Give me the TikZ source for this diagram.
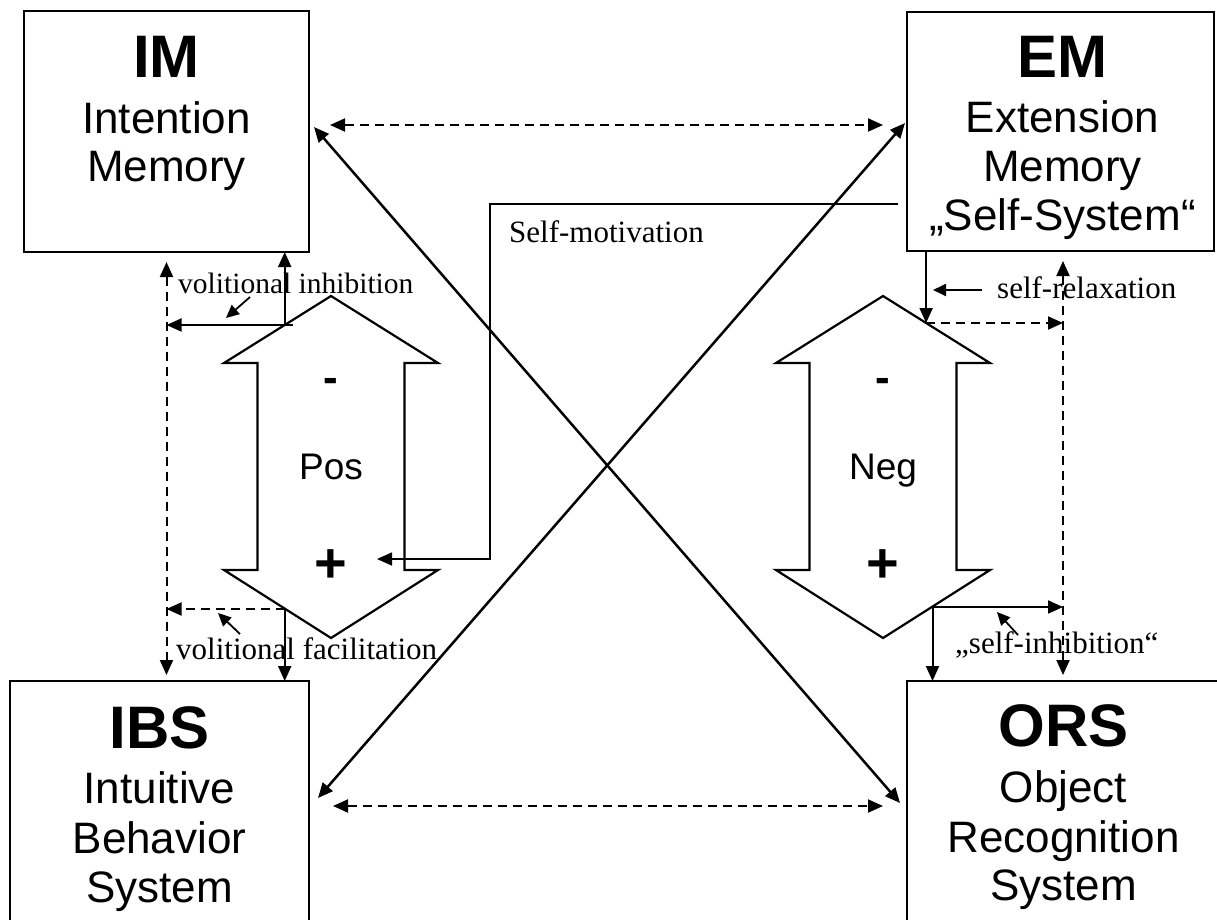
\documentclass[tikz,border=0pt]{standalone}
\usepackage{fontspec}
\setmainfont{Liberation Serif}
\newfontfamily\arialfont{Liberation Sans}
\usetikzlibrary{arrows.meta,calc}

\tikzset{
  hd/.tip={Triangle[length=15pt,width=13pt]},
  sh/.tip={Triangle[length=13pt,width=12pt]},
  sysbox/.style={draw, line width=2.6pt, inner sep=0pt, outer sep=0pt},
  ttl/.style={font=\arialfont\bfseries\fontsize{60}{64}\selectfont, anchor=base, inner sep=0pt},
  sub/.style={font=\arialfont\fontsize{44}{48}\selectfont, anchor=base, inner sep=0pt},
  minus/.style={font=\arialfont\bfseries\fontsize{44}{48}\selectfont, anchor=base, inner sep=0pt},
  plus/.style={font=\arialfont\bfseries\fontsize{56}{60}\selectfont, anchor=base, inner sep=0pt},
  mid/.style={font=\arialfont\fontsize{37}{40}\selectfont, anchor=base, inner sep=0pt},
  lbl/.style={font=\fontsize{31}{34}\selectfont, anchor=base west, inner sep=0pt},
  arr/.style={line width=2pt, -hd},
  both/.style={line width=2.5pt, hd-hd},
  dashline/.style={dash pattern=on 9pt off 6pt},
  dashboth/.style={line width=2pt, hd-hd, dashline},
  smallarr/.style={line width=1.8pt, -sh},
  outline/.style={line width=2.2pt, line join=miter},
  pics/updown/.style={code={
    \draw[outline] (0,-171) -- (107,-104) -- (73.5,-104) -- (73.5,103) -- (107,103)
      -- (0,171) -- (-107,103) -- (-73.5,103) -- (-73.5,-104) -- (-107,-104) -- cycle;
    \coordinate (-nw) at (-46.3,-142);
    \coordinate (-ne) at (43.1,-144);
    \coordinate (-sw) at (-46.3,142);
    \coordinate (-se) at (49.5,140);
    \coordinate (-in) at (46,92);
  }},
}

\begin{document}
\begin{tikzpicture}[x=1pt,y=-1pt]
\clip (0,0) rectangle (1217,919);
\fill[white] (0,0) rectangle (1217,919);

% the four systems
\node[sysbox, minimum width=285pt, minimum height=241pt] (IM)  at (166.5,131.5) {};
\node[sysbox, minimum width=307pt, minimum height=239pt] (EM)  at (1060.5,131.5) {};
\node[sysbox, minimum width=299pt, minimum height=249pt] (IBS) at (159.5,805.5) {};
\node[sysbox, minimum width=311pt, minimum height=249pt] (ORS) at (1062.5,805.5) {};

\node[ttl] (IMa) at ($(IM.north)+(0,66)$) {IM};
\node[sub] (IMb) at ($(IM.north)+(0,122)$) {Intention};
\node[sub] (IMc) at ($(IM.north)+(0,170)$) {Memory};

\node[ttl] (EMa) at ($(EM.north)+(2,65)$) {EM};
\node[sub] (EMb) at ($(EM.north)+(2,120)$) {Extension};
\node[sub] (EMc) at ($(EM.north)+(2,169)$) {Memory};
\node[sub] (EMd) at ($(EM.north)+(2,218)$) {„Self-System“};

\node[ttl] (IBSa) at ($(IBS.north)+(0,67)$) {IBS};
\node[sub] (IBSb) at ($(IBS.north)+(0,122)$) {Intuitive};
\node[sub] (IBSc) at ($(IBS.north)+(0,172)$) {Behavior};
\node[sub] (IBSd) at ($(IBS.north)+(0,221)$) {System};

\node[ttl] (ORSa) at ($(ORS.north)+(1,65)$) {ORS};
\node[sub] (ORSb) at ($(ORS.north)+(1,121)$) {Object};
\node[sub] (ORSc) at ($(ORS.north)+(1,171)$) {Recognition};
\node[sub] (ORSd) at ($(ORS.north)+(1,219)$) {System};

% affect arrows
\pic (pos) at (331,467) {updown};
\pic (neg) at (883,467) {updown};
\node[minus] (posminus) at (331,392) {-};
\node[mid]   (postext)  at (331,479) {Pos};
\node[plus]  (posplus)  at (331,582) {+};
\node[minus] (negminus) at (883,392) {-};
\node[mid]   (negtext)  at (883,479) {Neg};
\node[plus]  (negplus)  at (883,582) {+};

% links between the systems
\draw[dashboth, shorten <=21pt, shorten >=24pt] ([yshift=6.5pt]IM.east) -- ([yshift=6.5pt]IM.east -| EM.west);
\draw[dashboth, shorten <=24pt, shorten >=24pt] ([yshift=-0.5pt]IBS.east) -- ([yshift=-0.5pt]IBS.east -| ORS.west);
\draw[dashboth, shorten <=10pt, shorten >=6pt] (IM.south) -- (IM.south |- IBS.north);
\coordinate (Rx) at ([xshift=2.5pt]EM.south);
\draw[dashboth, shorten <=10pt, shorten >=6pt] (Rx) -- (Rx |- ORS.north);
\draw[both] ([shift={(5,-4.5)}]IM.east) -- ([shift={(-7,-2.5)}]ORS.west);
\draw[both] ([shift={(-2,-8.5)}]EM.west) -- ([shift={(9,-7.5)}]IBS.east);

% volitional inhibition / facilitation
\draw[arr] (pos-nw) -- (pos-nw |- IM.south);
\draw[arr] ([xshift=8pt]pos-nw) -- (pos-nw -| IM.south);
\draw[arr, dashline] (pos-sw) -- (pos-sw -| IM.south);
\draw[arr] (pos-sw) -- (pos-sw |- IBS.north);

% self-relaxation / self-inhibition
\draw[arr] (neg-ne |- EM.south) -- (neg-ne);
\draw[arr, dashline] (neg-ne) -- (neg-ne -| Rx);
\draw[arr] (neg-se) -- (neg-se -| Rx);
\draw[arr] (neg-se) -- (neg-se |- ORS.north);

% self-motivation
\coordinate (sm0) at ([shift={(-9,72.5)}]EM.west);
\coordinate (smx) at ($(pos-in)+(113,0)$);
\draw[line width=1.6pt, -hd] (sm0) -| (smx) -- (pos-in);

% labels
\node[lbl] (selfmot) at (509,242) {Self-motivation};
\node[lbl, font=\fontsize{29.5}{32}\selectfont] (volinh) at (178,293) {volitional inhibition};
\draw[smallarr] ([shift={(72,4)}]volinh.base west) -- ([shift={(48,25)}]volinh.base west);
\node[lbl] (volfac) at (176,659) {volitional facilitation};
\draw[smallarr] ([shift={(64,-25)}]volfac.base west) -- ([shift={(42,-46)}]volfac.base west);
\node[lbl] (selfrel) at (997,298) {self-relaxation};
\draw[smallarr] ([shift={(-15,-8)}]selfrel.base west) -- ([shift={(-64,-8)}]selfrel.base west);
\node[lbl] (selfinh) at (955,653) {„self-inhibition“};
\draw[smallarr] ([shift={(63,-18)}]selfinh.base west) -- ([shift={(42,-41)}]selfinh.base west);
\end{tikzpicture}
\end{document}
